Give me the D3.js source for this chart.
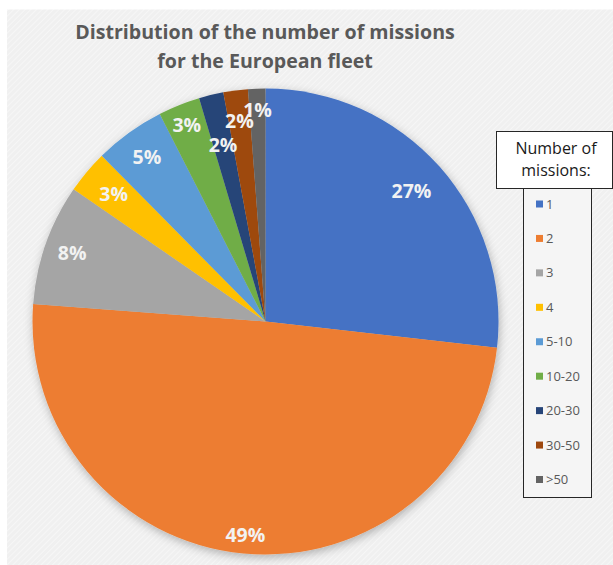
<!DOCTYPE html>
<html>
<head>
<meta charset="utf-8">
<script src="https://cdn.jsdelivr.net/npm/d3@7"></script>
<style>
html,body{margin:0;padding:0;background:#ffffff;}
svg{display:block;}
</style>
</head>
<body>
<svg id="chart" width="613" height="565"></svg>
<script>
// ---- data ----
const categories = ["1", "2", "3", "4", "5-10", "10-20", "20-30", "30-50", ">50"];
const shares = [26.8, 49.4, 8.4, 3.0, 4.9, 2.9, 1.7, 1.7, 1.2];
const titleLines = ["Distribution of the number of missions", "for the European fleet"];
const legendTitleLines = ["Number of", "missions:"];

// ---- styling / layout ----
const colors = ["#4472C4", "#ED7D31", "#A5A5A5", "#FFC000", "#5B9BD5", "#70AD47", "#264478", "#9E480E", "#636363"];
const labelRadiusFactor = [0.84, 0.92, 0.88, 0.85, 0.87, 0.91, 0.78, 0.87, 0.91];

const W = 613, H = 565;
const cx = 265.5, cy = 321.5, R = 233;

const svg = d3.select("#chart");
const defs = svg.append("defs");

// background texture
const pat = defs.append("pattern").attr("id", "hatch").attr("patternUnits", "userSpaceOnUse")
  .attr("width", 4).attr("height", 4).attr("patternTransform", "rotate(45)");
pat.append("rect").attr("width", 4).attr("height", 4).attr("fill", "#f0f0f0");
pat.append("line").attr("x1", 0).attr("y1", 0).attr("x2", 0).attr("y2", 4)
  .attr("stroke", "#f8f8f8").attr("stroke-width", 1.5);

const shadow = defs.append("filter").attr("id", "shadow")
  .attr("x", "-20%").attr("y", "-20%").attr("width", "140%").attr("height", "140%");
shadow.append("feDropShadow").attr("dx", 1).attr("dy", 3).attr("stdDeviation", 5)
  .attr("flood-color", "#000").attr("flood-opacity", 0.28);

svg.append("rect").attr("x", 7).attr("y", 9.5).attr("width", W - 7).attr("height", H - 9.5)
  .attr("fill", "url(#hatch)");

// title
svg.append("g").selectAll("text").data(titleLines).join("text")
  .attr("x", 265)
  .attr("y", (d, i) => 39 + i * 29)
  .attr("text-anchor", "middle")
  .attr("font-family", "'Open Sans', sans-serif")
  .attr("font-weight", "bold")
  .attr("font-size", 19.6)
  .attr("fill", "#595959")
  .text(d => d);

// pie
const data = categories.map((c, i) => ({ cat: c, value: shares[i], i }));
const total = d3.sum(shares);
const pie = d3.pie().value(d => d.value).sort(null);
const arcs = pie(data);
const arc = d3.arc().innerRadius(0).outerRadius(R);

const g = svg.append("g").attr("transform", `translate(${cx},${cy})`);
g.append("g").attr("filter", "url(#shadow)")
  .selectAll("path").data(arcs).join("path")
  .attr("d", arc)
  .attr("fill", d => colors[d.data.i]);

const fmt = d3.format(".0%");
g.append("g").selectAll("text").data(arcs).join("text")
  .attr("transform", d => {
    const r = R * labelRadiusFactor[d.data.i];
    const a = d3.arc().innerRadius(r).outerRadius(r);
    const [x, y] = a.centroid(d);
    return `translate(${x},${y})`;
  })
  .attr("text-anchor", "middle")
  .attr("dy", "0.36em")
  .attr("font-family", "'Open Sans', sans-serif")
  .attr("font-weight", "bold")
  .attr("font-size", 19.5)
  .attr("fill", "#f2f2f2")
  .text(d => fmt(d.data.value / total));

// legend items box
const legItemsX = 523.5, legItemsY = 170, legItemsW = 68, legItemsH = 327.5;
svg.append("rect").attr("x", legItemsX).attr("y", legItemsY)
  .attr("width", legItemsW).attr("height", legItemsH)
  .attr("fill", "#f5f5f5").attr("stroke", "#262626").attr("stroke-width", 1);

const yLeg = d3.scalePoint().domain(categories).range([204, 479.5]);
const leg = svg.append("g").selectAll("g").data(data).join("g")
  .attr("transform", d => `translate(536, ${yLeg(d.cat)})`);
leg.append("rect").attr("x", 0).attr("y", -3.5).attr("width", 7).attr("height", 7)
  .attr("fill", d => colors[d.i]);
leg.append("text").attr("x", 10).attr("y", 0).attr("dy", "0.35em")
  .attr("font-family", "'Open Sans', sans-serif")
  .attr("font-size", 13)
  .attr("fill", "#595959")
  .text(d => d.cat);

// legend title box
svg.append("rect").attr("x", 496.5).attr("y", 131.5).attr("width", 116).attr("height", 57)
  .attr("fill", "#ffffff").attr("stroke", "#262626").attr("stroke-width", 1);
svg.append("g").selectAll("text").data(legendTitleLines).join("text")
  .attr("x", 556)
  .attr("y", (d, i) => 148 + i * 22.5)
  .attr("dy", "0.35em")
  .attr("text-anchor", "middle")
  .attr("font-family", "'Open Sans', sans-serif")
  .attr("font-size", 16)
  .attr("fill", "#1a1a1a")
  .text(d => d);
</script>
</body>
</html>
